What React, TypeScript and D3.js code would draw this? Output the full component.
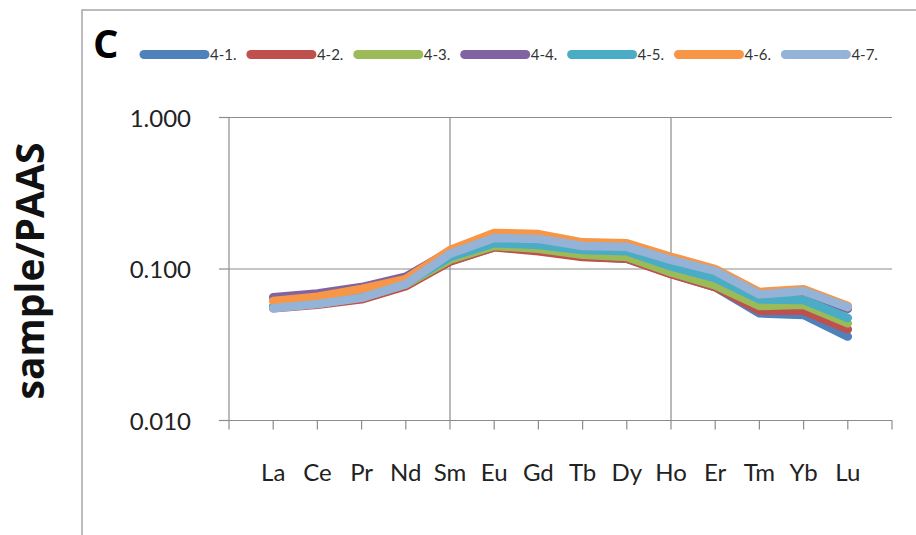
import * as d3 from "d3";

const ree = ["La", "Ce", "Pr", "Nd", "Sm", "Eu", "Gd", "Tb", "Dy", "Ho", "Er", "Tm", "Yb", "Lu"];
// blank categories at both ends of the axis, as in the original sheet
const slots = ["_a", ...ree, "_b"];

const seriesNames = ["4-1.", "4-2.", "4-3.", "4-4.", "4-5.", "4-6.", "4-7."];
const colors = ["#4F81BD", "#C0504D", "#9BBB59", "#8064A2", "#4BACC6", "#F79646", "#95B3D7"];

const s41 = [0.056, 0.059, 0.064, 0.078, 0.112, 0.14, 0.133, 0.121, 0.117, 0.093, 0.076, 0.051, 0.0497, 0.0358];
const s42 = [0.055, 0.058, 0.063, 0.077, 0.112, 0.139, 0.131, 0.12, 0.117, 0.0925, 0.076, 0.053, 0.053, 0.04];
const s43 = [0.056, 0.059, 0.065, 0.079, 0.115, 0.142, 0.136, 0.124, 0.12, 0.095, 0.078, 0.057, 0.058, 0.0438];
const s44 = [0.065, 0.069, 0.076, 0.089, 0.131, 0.165, 0.162, 0.145, 0.143, 0.117, 0.098, 0.066, 0.068, 0.0545];
const s45 = [0.057, 0.06, 0.065, 0.08, 0.12, 0.148, 0.144, 0.1335, 0.131, 0.104, 0.087, 0.063, 0.0624, 0.0475];
const s46 = [0.0615, 0.0656, 0.074, 0.0858, 0.1335, 0.173, 0.17, 0.15, 0.148, 0.1205, 0.1, 0.0705, 0.0735, 0.057];
const s47 = [0.055, 0.0588, 0.0645, 0.0795, 0.126, 0.16, 0.158, 0.142, 0.14, 0.115, 0.097, 0.068, 0.0716, 0.056];
const allSeries = [s41, s42, s43, s44, s45, s46, s47];

const yTicks = [0.01, 0.1, 1];

export default function App({
  width = 916,
  height = 535,
  marginTop = 117.5,
  marginRight = 24,
  marginBottom = 114.5,
  marginLeft = 229,
}) {
  const x = d3.scalePoint(slots, [marginLeft, width - marginRight]);
  const y = d3.scaleLog([0.01, 1], [height - marginBottom, marginTop]);
  const line = d3.line<number>((d, i) => x(ree[i])!, (d) => y(d));
  const y0 = height - marginBottom;
  const grid = "#8c8c8c";

  return (
    <svg width={width} height={height} style={{ position: "absolute", left: 0, top: 0, background: "#fff" }}>
      {/* chart frame */}
      <rect x={82} y={10} width={900} height={600} fill="none" stroke="#a6a6a6" strokeWidth={1.5} />
      <text x={93} y={58} fontFamily="Open Sans" fontWeight="bold" fontSize={40}>C</text>

      <g fontFamily="Lato" fontSize={15} fill="#333">
        {seriesNames.map((name, i) => (
          <g key={name} transform={`translate(${142 + i * 106.9}, 54.5)`}>
            <line x1={2} x2={63} y1={0} y2={0} stroke={colors[i]} strokeWidth={9} strokeLinecap="round" />
            <text x={68} y={5.5}>{name}</text>
          </g>
        ))}
      </g>

      {/* gridlines */}
      <g stroke={grid} strokeWidth={1.2}>
        {yTicks.slice(1).map((t) => (
          <line key={t} x1={marginLeft} x2={width - marginRight} y1={y(t)} y2={y(t)} />
        ))}
        {[slots[5], slots[10]].map((s) => (
          <line key={s} x1={x(s)} x2={x(s)} y1={marginTop} y2={y0} />
        ))}
        <line x1={marginLeft} x2={marginLeft} y1={marginTop} y2={y0} />
        <line x1={marginLeft - 10} x2={width - marginRight} y1={y0} y2={y0} />
        {yTicks.map((t) => (
          <line key={"t" + t} x1={marginLeft - 10} x2={marginLeft} y1={y(t)} y2={y(t)} />
        ))}
        {slots.map((s) => (
          <line key={"x" + s} x1={x(s)} x2={x(s)} y1={y0} y2={y0 + 9} />
        ))}
      </g>

      <g fontFamily="Lato" fontSize={24} fill="#222" textAnchor="end">
        {yTicks.map((t) => (
          <text key={t} x={191} y={y(t) + 9}>{d3.format(".3f")(t)}</text>
        ))}
      </g>
      <g fontFamily="Lato" fontSize={24} fill="#222" textAnchor="middle">
        {ree.map((r) => (
          <text key={r} x={x(r)} y={481}>{r}</text>
        ))}
      </g>

      <text
        transform="translate(44, 271) rotate(-90)"
        textAnchor="middle"
        fontFamily="Open Sans"
        fontWeight="bold"
        fontSize={39}
        fill="#111"
      >
        sample/PAAS
      </text>

      <g fill="none" strokeWidth={8.5} strokeLinejoin="round" strokeLinecap="round">
        {allSeries.map((s, i) => (
          <path key={i} d={line(s)!} stroke={colors[i]} />
        ))}
      </g>
    </svg>
  );
}
